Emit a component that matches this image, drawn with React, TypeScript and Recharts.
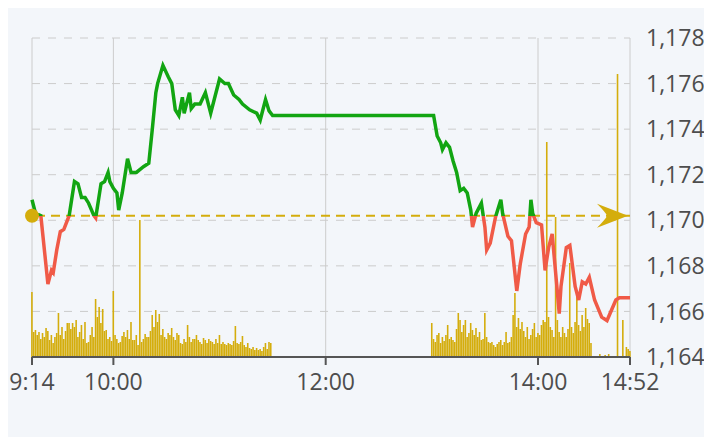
import { ComposedChart, Line, Bar, XAxis, YAxis, CartesianGrid, ReferenceLine, ReferenceDot } from 'recharts';

// minutes since midnight, 554 = 9:14
const priceMinutes = [
  554, 556, 559, 563, 565, 566, 568, 570, 572, 575, 578, 580, 582, 584, 586, 589, 590, 593, 595, 597,
  598, 600, 602, 603, 605, 608, 610, 613, 617, 620, 622, 624, 625, 628, 631, 633, 635, 637, 639, 640,
  643, 644, 646, 649, 652, 655, 657, 660, 663, 665, 668, 671, 673, 677, 681, 683, 686, 688, 690,
  781, 783, 785, 786, 788, 790, 792, 794, 796, 798, 800, 802, 803, 805, 808, 810, 811, 813, 816, 819,
  820, 823, 825, 828, 830, 833, 835, 836, 837, 839, 842, 844, 846, 848, 851, 852, 853, 856, 858, 861,
  863, 865, 867, 869, 872, 876, 879, 884, 886, 892,
];
const prices = [
  1170.9, 1170.3, 1170.2, 1167.2, 1167.8, 1167.7, 1168.7, 1169.5, 1169.6, 1170.2, 1171.7, 1171.6, 1171.0, 1171.0, 1170.75, 1170.2, 1170.1, 1171.6, 1171.7, 1172.1,
  1171.7, 1171.4, 1171.2, 1170.45, 1171.2, 1172.7, 1172.1, 1172.1, 1172.35, 1172.5, 1174.0, 1175.6, 1176.0, 1176.8, 1176.3, 1176.0, 1174.85, 1174.6, 1175.4, 1174.7,
  1175.6, 1174.9, 1175.1, 1175.1, 1175.6, 1174.7, 1175.3, 1176.2, 1176.0, 1176.0, 1175.5, 1175.3, 1175.1, 1174.85, 1174.7, 1174.4, 1175.3, 1174.8, 1174.6,
  1174.6, 1173.7, 1173.4, 1173.1, 1173.4, 1173.2, 1172.6, 1172.1, 1171.3, 1171.4, 1171.2, 1170.45, 1169.7, 1170.3, 1170.75, 1169.7, 1168.7, 1169.0, 1170.15, 1170.9,
  1170.3, 1169.3, 1169.1, 1166.9, 1168.1, 1169.4, 1169.7, 1170.9, 1170.3, 1169.9, 1169.8, 1167.8, 1168.8, 1169.4, 1166.8, 1165.9, 1167.1, 1168.8, 1168.9, 1167.1,
  1166.5, 1167.3, 1167.2, 1167.5, 1166.5, 1165.75, 1165.6, 1166.5, 1166.6, 1166.6,
];

// volume per minute, morning from 9:14, afternoon from 13:00
const amStart = 554;
const amVolume = [
  65, 25, 27, 22, 25, 18, 24, 20, 29, 26,
  17, 22, 14, 20, 24, 44, 22, 30, 18, 26,
  34, 34, 28, 34, 30, 37, 20, 25, 32, 18,
  35, 14, 15, 22, 30, 20, 58, 40, 50, 34,
  48, 26, 27, 18, 20, 16, 66, 22, 18, 14,
  15, 21, 25, 20, 27, 18, 35, 17, 17, 22,
  12, 137, 15, 18, 23, 20, 20, 26, 42, 30,
  47, 35, 43, 22, 28, 20, 18, 24, 22, 29,
  20, 17, 24, 22, 14, 13, 18, 15, 32, 20,
  15, 18, 18, 22, 17, 15, 13, 19, 17, 14,
  18, 16, 15, 13, 18, 14, 22, 13, 15, 13,
  12, 14, 13, 12, 16, 31, 14, 13, 15, 21,
  12, 10, 14, 9, 8, 10, 7, 9, 7, 8,
  6, 10, 14, 8, 15, 14,
];
const pmStart = 780;
const pmVolume = [
  34, 18, 15, 22, 24, 14, 20, 16, 22, 32,
  18, 20, 17, 15, 28, 44, 37, 25, 32, 37,
  20, 24, 34, 27, 22, 29, 20, 25, 17, 18,
  44, 20, 15, 14, 15, 12, 10, 13, 15, 17,
  12, 15, 25, 14, 15, 20, 42, 64, 30, 39,
  28, 35, 26, 20, 30, 18, 22, 28, 34, 20,
  24, 22, 32, 37, 35, 215, 40, 30, 27, 20,
  140, 37, 25, 20, 30, 24, 20, 28, 94, 30,
  24, 35, 67, 32, 26, 42, 30, 49, 38, 34,
  14, 0, 0, 0, 0, 3, 0, 0, 2, 0,
  3, 0, 0, 0, 0, 283, 0, 0, 37, 0,
  10, 8, 6,
];

const refPrice = 1170.2;
const timeTicks = [554, 600, 720, 840, 892];
const priceTicks = [1164, 1166, 1168, 1170, 1172, 1174, 1176, 1178];

const GREEN = '#12a512';
const RED = '#f05a47';
const GOLD = '#d4ad0c';

type Row = { t: number; price?: number; vol?: number };
const rowMap = new Map<number, Row>();
const getRow = (t: number) => {
  if (!rowMap.has(t)) rowMap.set(t, { t });
  return rowMap.get(t)!;
};
priceMinutes.forEach((t, i) => { getRow(t).price = prices[i]; });
amVolume.forEach((v, i) => { getRow(amStart + i).vol = v; });
pmVolume.forEach((v, i) => { getRow(pmStart + i).vol = v; });
const data = [...rowMap.values()].sort((a, b) => a.t - b.t);

const maxP = Math.max(...prices);
const minP = Math.min(...prices);
const splitOffset = (maxP - refPrice) / (maxP - minP);

const fmtTime = (m: number) => `${Math.floor(m / 60)}:${String(m % 60).padStart(2, '0')}`;
const fmtPrice = (v: number) => v.toLocaleString('en-US');

const Arrow = (props: any) => {
  const { cx, cy } = props;
  const tip = cx - 2;
  return (
    <path
      d={`M${tip},${cy} L${tip - 31},${cy - 12} Q${tip - 22},${cy - 3} ${tip - 21},${cy} Q${tip - 22},${cy + 3} ${tip - 31},${cy + 12} Z`}
      fill={GOLD}
    />
  );
};

export default function App() {
  return (
    <div style={{ width: 704, height: 429, background: '#f3f6fa', fontFamily: '"Open Sans", sans-serif' }}>
      <ComposedChart width={704} height={429} data={data} margin={{ top: 30, right: 0, left: 24, bottom: 40 }}>
        <defs>
          <linearGradient id="priceSplit" x1="0" y1="0" x2="0" y2="1">
            <stop offset={splitOffset} stopColor={GREEN} />
            <stop offset={splitOffset} stopColor={RED} />
          </linearGradient>
        </defs>
        <CartesianGrid yAxisId="price" horizontal vertical={false} stroke="#cccccc" strokeDasharray="8 8" />
        <CartesianGrid yAxisId="price" horizontal={false} vertical stroke="#cccccc" />
        <XAxis
          dataKey="t"
          type="number"
          domain={[554, 892]}
          ticks={timeTicks}
          interval={0}
          tickFormatter={fmtTime}
          tick={{ fontSize: 23, fill: '#4d4d4d' }}
          axisLine={{ stroke: '#555', strokeWidth: 2 }}
          tickLine={{ stroke: '#555', strokeWidth: 2 }}
          tickSize={8}
          tickMargin={9}
          height={40}
        />
        <YAxis
          yAxisId="price"
          orientation="right"
          domain={[1164, 1178]}
          ticks={priceTicks}
          interval={0}
          tickFormatter={fmtPrice}
          tick={{ fontSize: 23, fill: '#4d4d4d' }}
          axisLine={false}
          tickLine={false}
          tickMargin={10}
          width={82}
        />
        <YAxis yAxisId="vol" hide domain={[0, 319]} />
        <Bar yAxisId="vol" dataKey="vol" fill={GOLD} barSize={2.2} isAnimationActive={false} />
        <ReferenceLine yAxisId="price" y={refPrice} stroke={GOLD} strokeWidth={2} strokeDasharray="9 6" />
        <Line
          yAxisId="price"
          type="linear"
          dataKey="price"
          stroke="url(#priceSplit)"
          strokeWidth={3.5}
          dot={false}
          connectNulls
          isAnimationActive={false}
        />
        <ReferenceDot yAxisId="price" x={554} y={refPrice} r={7} fill={GOLD} stroke="none" />
        <ReferenceDot yAxisId="price" x={892} y={refPrice} shape={Arrow} />
      </ComposedChart>
    </div>
  );
}
